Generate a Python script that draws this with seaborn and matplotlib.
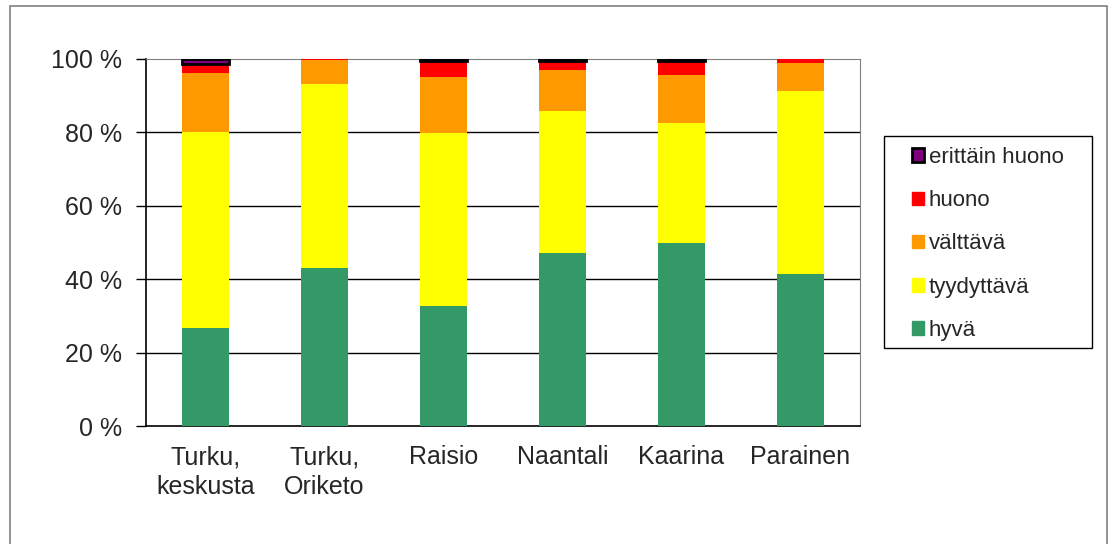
import matplotlib
matplotlib.use("Agg")
import matplotlib.pyplot as plt
from matplotlib.patches import Rectangle, Patch
import seaborn as sns
import numpy as np
import pandas as pd

# Data (percent shares per area)
areas = ["Turku,\nkeskusta", "Turku,\nOriketo", "Raisio", "Naantali", "Kaarina", "Parainen"]
hyva = [26.7, 43.1, 32.7, 47.1, 49.9, 41.4]
tyydyttava = [53.4, 50.1, 47.2, 38.8, 32.7, 49.9]
valttava = [16.0, 6.6, 15.3, 11.2, 13.0, 7.6]
huono = [2.5, 0.2, 4.3, 2.4, 3.9, 1.1]
erittain_huono = [1.4, 0.0, 0.5, 0.5, 0.5, 0.0]

series = ["hyvä", "tyydyttävä", "välttävä", "huono", "erittäin huono"]
colors = ["#339966", "#FFFF00", "#FF9900", "#FF0000", "#800080"]

df = pd.DataFrame({"alue": areas, "hyvä": hyva, "tyydyttävä": tyydyttava,
                   "välttävä": valttava, "huono": huono,
                   "erittäin huono": erittain_huono})

sns.set_style("white")
plt.rcParams["font.family"] = ["Liberation Sans", "DejaVu Sans"]

fig = plt.figure(figsize=(11.09, 5.44), dpi=100)
ax = fig.add_axes([146 / 1109, 1 - 426 / 544, (860 - 146) / 1109, (426 - 59) / 544])

# stacked bars
bottom = np.zeros(len(areas))
for name, col in zip(series, colors):
    edge = "black" if name == "erittäin huono" else col
    lw = 2.0 if name == "erittäin huono" else 0
    sns.barplot(data=df, x="alue", y=name, color=col, width=0.4,
                bottom=bottom.copy(), edgecolor=edge, linewidth=lw,
                saturation=1, ax=ax, zorder=3)
    bottom += df[name].values

# no outline for empty 'erittäin huono' segments
for p in ax.containers[-1]:
    if p.get_height() == 0:
        p.set_linewidth(0)

ax.set_ylim(0, 100)
ax.set_xlim(-0.5, len(areas) - 0.5)
ax.set_yticks([0, 20, 40, 60, 80, 100])
ax.set_yticklabels([f"{v} %" for v in [0, 20, 40, 60, 80, 100]], fontsize=18)
ax.set_xticks(range(len(areas)))
ax.set_xticklabels(areas, fontsize=18, linespacing=1.3)
ax.set_xticks(np.arange(-0.5, len(areas)), minor=True)
ax.set_xlabel("")
ax.set_ylabel("")

ax.tick_params(axis="x", which="major", length=0, pad=14)
ax.tick_params(axis="x", which="minor", length=7, width=1, direction="out", color="black")
ax.tick_params(axis="y", length=7, width=1, direction="out", color="black", pad=10, left=True)

for v in [20, 40, 60, 80]:
    ax.axhline(v, color="black", lw=1, zorder=1)

ax.spines["left"].set_color("black")
ax.spines["bottom"].set_color("black")
ax.spines["left"].set_linewidth(1.2)
ax.spines["bottom"].set_linewidth(1.2)
ax.spines["top"].set_color("#808080")
ax.spines["right"].set_color("#808080")
for s in ax.spines.values():
    s.set_zorder(2)

# legend (top to bottom: worst first)
handles = []
for name, col in zip(series[::-1], colors[::-1]):
    if name == "erittäin huono":
        handles.append(Patch(facecolor=col, edgecolor="black", linewidth=2, label=name))
    else:
        handles.append(Patch(facecolor=col, edgecolor=col, label=name))
leg = fig.legend(handles=handles, loc="upper left",
                 bbox_to_anchor=(912 / 1109, 1 - 147 / 544), fontsize=16,
                 frameon=False, handlelength=0.55, handleheight=0.55,
                 handletextpad=0.2, labelspacing=1.0, borderpad=0,
                 borderaxespad=0)

# legend box
fig.patches.append(Rectangle((884 / 1109, 1 - 348 / 544), (1092 - 884) / 1109,
                             (348 - 136) / 544, transform=fig.transFigure,
                             fill=False, edgecolor="black", linewidth=1))

# outer chart border
fig.patches.append(Rectangle((10 / 1109, -0.05), (1107 - 10) / 1109, 1.05 - 6 / 544,
                             transform=fig.transFigure, fill=False,
                             edgecolor="#808080", linewidth=1.2))

fig.savefig("out.png", dpi=100)
